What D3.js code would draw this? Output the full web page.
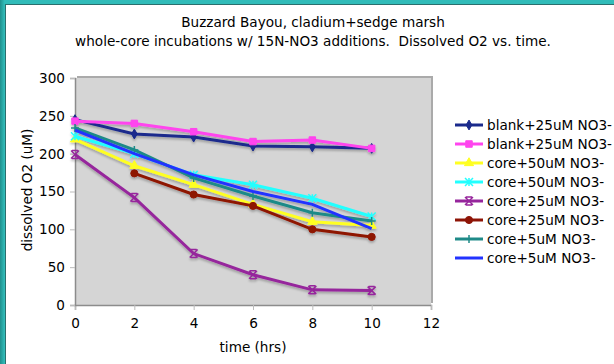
<!DOCTYPE html>
<html>
<head>
<meta charset="utf-8">
<script src="https://cdn.jsdelivr.net/npm/d3@7"></script>
<style>
  body { margin: 0; background: #fff; }
  svg text { font-family: "DejaVu Sans", Verdana, sans-serif; fill: #000; }
</style>
</head>
<body>
<script>
const times = [0, 2, 4, 6, 8, 10];
const xTicks = [0, 2, 4, 6, 8, 10, 12];
const yTicks = [0, 50, 100, 150, 200, 250, 300];

const seriesNames = [
  "blank+25uM NO3-", "blank+25uM NO3-", "core+50uM NO3-", "core+50uM NO3-",
  "core+25uM NO3-", "core+25uM NO3-", "core+5uM NO3-", "core+5uM NO3-"
];
const seriesColors = ["#1a2a8c", "#ff44ee", "#ffff22", "#22ffff", "#96259c", "#8e1406", "#1f8a88", "#2233ff"];
const seriesMarkers = ["diamond", "square", "triangle", "star", "xstar", "circle", "plus", "none"];

const blank25a = [245, 226, 222, 210, 209, 207];
const blank25b = [243, 240, 229, 216, 218, 207];
const core50a = [219, 184, 159, 133, 110, 105];
const core50b = [223, 200, 172, 159, 141, 117];
const core25a = [199, 142, 68, 40, 20, 19];
const core25b = [null, 174, 146, 131, 100, 90];
const core5a = [234, 205, 168, 144, 122, 111];
const core5b = [231, 200, 172, 150, 133, 101];
const seriesValues = [blank25a, blank25b, core50a, core50b, core25a, core25b, core5a, core5b];

const W = 614, H = 364;
const plot = { left: 75, right: 431, top: 78, bottom: 305 };
const fs = "13.6px";

const svg = d3.select("body").append("svg")
  .attr("width", W)
  .attr("height", H);

// frame: teal band top and left
const defs = svg.append("defs");
const grad = defs.append("linearGradient").attr("id", "tealGrad").attr("x1", 0).attr("x2", 1);
grad.append("stop").attr("offset", "0%").attr("stop-color", "#1f8f8c");
grad.append("stop").attr("offset", "100%").attr("stop-color", "#33c0bd");
svg.append("rect").attr("x", 0).attr("y", 0).attr("width", W).attr("height", 4).attr("fill", "#31bcb9");
svg.append("rect").attr("x", 0).attr("y", 0).attr("width", 5).attr("height", H).attr("fill", "url(#tealGrad)");
svg.append("line").attr("x1", 5).attr("x2", W).attr("y1", 4.5).attr("y2", 4.5).attr("stroke", "#2a6f6d").attr("stroke-width", 1);
svg.append("line").attr("x1", 5.5).attr("x2", 5.5).attr("y1", 4).attr("y2", H).attr("stroke", "#2a6f6d").attr("stroke-width", 1);

const shadow = defs.append("filter").attr("id", "shadow").attr("x", "-10%").attr("y", "-10%").attr("width", "130%").attr("height", "130%");
shadow.append("feDropShadow").attr("dx", 0).attr("dy", 2).attr("stdDeviation", 1)
  .attr("flood-color", "#000").attr("flood-opacity", 0.25);

const x = d3.scaleLinear().domain([0, 12]).range([plot.left, plot.right]);
const y = d3.scaleLinear().domain([0, 300]).range([plot.bottom, plot.top]);

// plot area
svg.append("rect")
  .attr("x", plot.left + 2).attr("y", plot.top - 2)
  .attr("width", plot.right - plot.left).attr("height", plot.bottom - plot.top)
  .attr("fill", "#aaa");
svg.append("rect")
  .attr("x", plot.left).attr("y", plot.top)
  .attr("width", plot.right - plot.left).attr("height", plot.bottom - plot.top)
  .attr("fill", "#d5d5d5");

// axes
const xAxis = svg.append("g")
  .attr("transform", `translate(0,${plot.bottom})`)
  .call(d3.axisBottom(x).tickValues(xTicks).tickSize(5).tickPadding(8));
const yAxis = svg.append("g")
  .attr("transform", `translate(${plot.left},0)`)
  .call(d3.axisLeft(y).tickValues(yTicks).tickSize(5).tickPadding(5));
[xAxis, yAxis].forEach(a => {
  a.select(".domain").attr("stroke", "#8c8c8c").attr("stroke-width", 1.5);
  a.selectAll(".tick line").attr("stroke", "#bbb");
  a.selectAll("text").style("font-size", fs)
    .style("font-family", "'DejaVu Sans', Verdana, sans-serif").attr("fill", "#000");
});

// lines and markers
const line = d3.line()
  .defined(d => d.v !== null)
  .x(d => x(d.t))
  .y(d => y(d.v));

const markerPath = {
  diamond: d3.symbol(d3.symbolDiamond, 28)(),
  square: d3.symbol(d3.symbolSquare, 42)(),
  triangle: d3.symbol(d3.symbolTriangle, 36)(),
  circle: d3.symbol(d3.symbolCircle, 40)(),
  plus: "M-4,0H4M0,-4V4",
  star: "M-4,-4L4,4M-4,4L4,-4M0,-4V4",
  xstar: "M-4,-4L4,4M-4,4L4,-4M-3,-4H3M-3,4H3",
  none: ""
};
const strokedMarkers = ["plus", "star", "xstar"];

const series = seriesValues.map((vals, i) => ({
  name: seriesNames[i],
  color: seriesColors[i],
  marker: seriesMarkers[i],
  points: times.map((t, j) => ({ t: t, v: vals[j] }))
}));

const g = svg.append("g").attr("filter", "url(#shadow)");
series.forEach(s => {
  g.append("path")
    .datum(s.points)
    .attr("d", line)
    .attr("fill", "none")
    .attr("stroke", s.color)
    .attr("stroke-width", 3);
  if (s.marker !== "none") {
    const stroked = strokedMarkers.includes(s.marker);
    g.selectAll(null)
      .data(s.points.filter(d => d.v !== null))
      .enter()
      .append("path")
      .attr("transform", d => `translate(${x(d.t)},${y(d.v)})`)
      .attr("d", markerPath[s.marker])
      .attr("fill", stroked ? "none" : s.color)
      .attr("stroke", s.color)
      .attr("stroke-width", stroked ? 1.5 : 1);
  }
});

// legend
const legend = svg.append("g").attr("transform", "translate(455,125)");
series.forEach((s, i) => {
  const row = legend.append("g").attr("transform", `translate(0,${i * 19})`);
  row.append("line").attr("x1", 0).attr("x2", 28).attr("y1", 0).attr("y2", 0)
    .attr("stroke", s.color).attr("stroke-width", 3);
  if (s.marker !== "none") {
    const stroked = strokedMarkers.includes(s.marker);
    row.append("path")
      .attr("transform", "translate(14,0)")
      .attr("d", markerPath[s.marker])
      .attr("fill", stroked ? "none" : s.color)
      .attr("stroke", s.color)
      .attr("stroke-width", stroked ? 1.5 : 1);
  }
  row.append("text").attr("x", 32).attr("y", 0).attr("dy", "0.35em")
    .style("font-size", fs).text(s.name);
});

// titles
svg.append("text").attr("x", 313).attr("y", 27).attr("text-anchor", "middle")
  .style("font-size", fs).text("Buzzard Bayou, cladium+sedge marsh");
svg.append("text").attr("x", 313).attr("y", 46).attr("text-anchor", "middle")
  .style("font-size", fs).style("white-space", "pre")
  .text("whole-core incubations w/ 15N-NO3 additions.  Dissolved O2 vs. time.");

svg.append("text").attr("x", 253).attr("y", 352).attr("text-anchor", "middle")
  .style("font-size", fs).text("time (hrs)");
svg.append("text")
  .attr("transform", "translate(32,190) rotate(-90)")
  .attr("text-anchor", "middle")
  .style("font-size", fs).text("dissolved O2 (uM)");
</script>
</body>
</html>
